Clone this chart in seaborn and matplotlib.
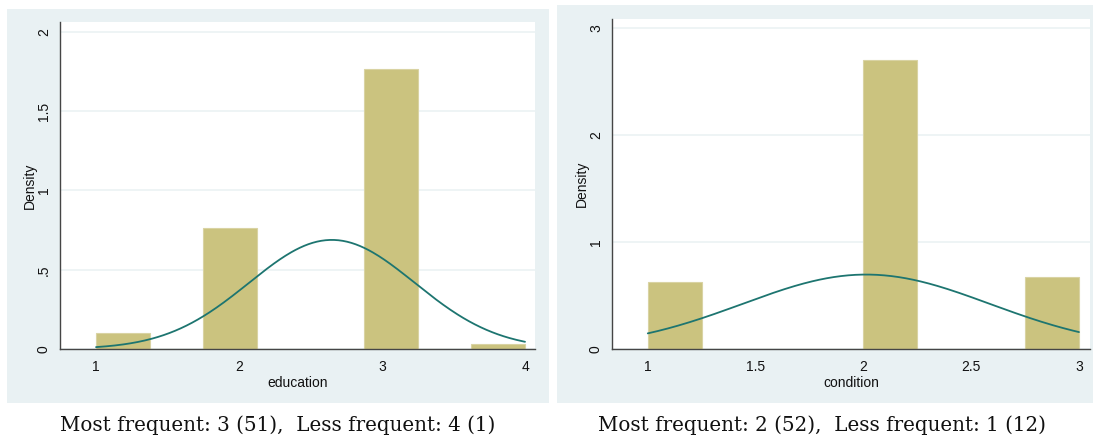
import matplotlib
matplotlib.use('Agg')
import matplotlib.pyplot as plt
import numpy as np
import seaborn as sns
from matplotlib.patches import Rectangle

edu_levels = [1, 2, 3, 4]
edu_counts = [3, 22, 51, 1]
cond_levels = [1, 2, 3]
cond_counts = [12, 52, 13]

edu_xticks = [1, 2, 3, 4]
edu_xlabels = ['1', '2', '3', '4']
edu_yticks = [0, 0.5, 1, 1.5, 2]
edu_ylabels = ['0', '.5', '1', '1.5', '2']
cond_xticks = [1, 1.5, 2, 2.5, 3]
cond_xlabels = ['1', '1.5', '2', '2.5', '3']
cond_yticks = [0, 1, 2, 3]
cond_ylabels = ['0', '1', '2', '3']

captions = ['Most frequent: 3 (51),  Less frequent: 4 (1)',
            'Most frequent: 2 (52),  Less frequent: 1 (12)']

sns.set_style('white')
plt.rcParams['font.family'] = ['Liberation Sans', 'DejaVu Sans']

bg = '#E9F1F3'
bar_color = '#CBC37F'
line_color = '#1D7570'
grid_color = '#EAF1F3'
axis_color = '#454545'

fig = plt.figure(figsize=(10.95, 4.41), dpi=100)
fig.patch.set_facecolor('white')

# stata-like grey panel behind each graph
for x0, w, h in [(0.0064, 0.495, 0.8934), (0.5087, 0.4895, 0.9025)]:
    fig.patches.append(Rectangle((x0, 0.0862), w, h, transform=fig.transFigure,
                                 facecolor=bg, edgecolor='none', zorder=-5))

ax1 = fig.add_axes([0.0548, 0.2086, 0.4338, 0.7415])
ax2 = fig.add_axes([0.5589, 0.2086, 0.4365, 0.7483])


def draw(ax, levels, counts, rng, xlim, ylim, xt, xl, yt, yl, name):
    sns.histplot(x=levels, weights=counts, bins=8, binrange=rng, stat='density',
                 color=bar_color, edgecolor='#D9D3A3', linewidth=0.8, alpha=1, ax=ax)

    # normal density with the sample mean / sd
    lv = np.array(levels, dtype=float)
    cn = np.array(counts, dtype=float)
    mu = np.average(lv, weights=cn)
    sd = np.sqrt(np.sum(cn * (lv - mu) ** 2) / (cn.sum() - 1))
    grid = np.linspace(rng[0], rng[1], 300)
    pdf = np.exp(-0.5 * ((grid - mu) / sd) ** 2) / (sd * np.sqrt(2 * np.pi))
    sns.lineplot(x=grid, y=pdf, color=line_color, linewidth=1.3, ax=ax)

    ax.set_xlim(*xlim)
    ax.set_ylim(*ylim)
    ax.set_xticks(xt, xl)
    ax.set_yticks(yt, yl, rotation=90, va='center')
    ax.tick_params(direction='out', length=5, width=0.8, color='#222222',
                   labelsize=10, labelcolor='#111111', pad=3)
    ax.tick_params(axis='y', pad=1.5)
    ax.yaxis.grid(True, color=grid_color, linewidth=1.1)
    ax.set_axisbelow(True)
    for s in ['top', 'right']:
        ax.spines[s].set_visible(False)
    for s in ['left', 'bottom']:
        ax.spines[s].set_color(axis_color)
        ax.spines[s].set_linewidth(1)
    ax.set_facecolor('white')
    ax.set_xlabel(name, fontsize=10, color='#111111', labelpad=1)
    ax.set_ylabel('Density', fontsize=10, color='#111111', labelpad=0)


draw(ax1, edu_levels, edu_counts, (1, 4), (0.748, 4.07), (0, 2.063),
     edu_xticks, edu_xlabels, edu_yticks, edu_ylabels, 'education')
draw(ax2, cond_levels, cond_counts, (1, 3), (0.834, 3.051), (0, 3.084),
     cond_xticks, cond_xlabels, cond_yticks, cond_ylabels, 'condition')

fig.text(0.2539, 0.036, captions[0], ha='center', va='center',
         fontsize=14.3, family=['DejaVu Serif'], color='#111111')
fig.text(0.7507, 0.036, captions[1], ha='center', va='center',
         fontsize=14.3, family=['DejaVu Serif'], color='#111111')

fig.savefig('out.png', dpi=100, facecolor='white')
